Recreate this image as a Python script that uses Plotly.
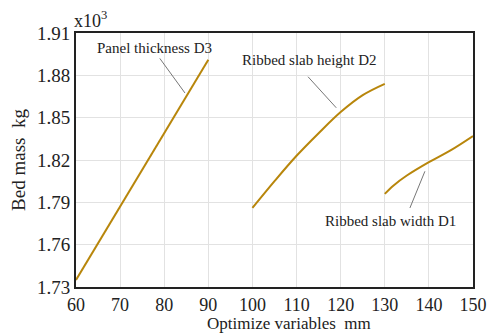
import plotly.graph_objects as go

# Data
d3_x = [60, 90]
d3_y = [1.735, 1.891]

d2_x = [100, 105, 110, 115, 120, 125, 130]
d2_y = [1.786, 1.805, 1.823, 1.839, 1.854, 1.866, 1.874]

d1_x = [130, 132, 135, 140, 145, 150]
d1_y = [1.796, 1.802, 1.809, 1.8185, 1.827, 1.837]

x_ticks = [60, 70, 80, 90, 100, 110, 120, 130, 140, 150]
y_ticks = [1.73, 1.76, 1.79, 1.82, 1.85, 1.88, 1.91]

labels = ["Panel thickness D3", "Ribbed slab height D2", "Ribbed slab width D1"]
x_title = "Optimize variables  mm"
y_title = "Bed mass  kg"

LINE_COLOR = "#B8860B"
FONT = "Liberation Serif"

fig = go.Figure()
for xs, ys in [(d3_x, d3_y), (d2_x, d2_y), (d1_x, d1_y)]:
    fig.add_trace(go.Scatter(x=xs, y=ys, mode="lines",
                             line=dict(color=LINE_COLOR, width=2, shape="spline"),
                             showlegend=False, hoverinfo="skip"))

# text labels
text_pos = [(77.9, 1.8997), (112.9, 1.891), (131.2, 1.777)]
for (tx, ty), t in zip(text_pos, labels):
    fig.add_annotation(x=tx, y=ty, text=t, showarrow=False,
                       font=dict(family=FONT, size=15, color="#222"),
                       xanchor="center", yanchor="middle")

# leader lines
leaders = [((79.0, 1.892), (84.7, 1.8675)),
           ((112.6, 1.879), (119.0, 1.857)),
           ((135.7, 1.786), (139.1, 1.812))]
for (x0, y0), (x1, y1) in leaders:
    fig.add_shape(type="line", x0=x0, y0=y0, x1=x1, y1=y1,
                  line=dict(color="#777", width=1))

fig.add_annotation(xref="paper", yref="paper", x=-0.01, y=1.0, yshift=0,
                   text="x10<sup>3</sup>", showarrow=False,
                   xanchor="left", yanchor="bottom",
                   font=dict(family=FONT, size=18, color="#222"))

# x axis title
fig.add_annotation(xref="paper", yref="paper", x=0.537, y=0, yshift=-48,
                   text=x_title, showarrow=False,
                   xanchor="center", yanchor="bottom",
                   font=dict(family=FONT, size=17, color="#222"))

fig.update_layout(
    width=488, height=335,
    margin=dict(l=76, r=15, t=33, b=48),
    paper_bgcolor="white", plot_bgcolor="white",
    font=dict(family=FONT, size=19, color="#222"),
    xaxis=dict(range=[60, 150], tickvals=x_ticks, showgrid=True,
               gridcolor="#e2e2e2", gridwidth=1, zeroline=False,
               showline=True, mirror=True, linecolor="#222", linewidth=2,
               ticks="", automargin=False, tickfont=dict(size=18)),
    yaxis=dict(range=[1.73, 1.91], tickvals=y_ticks,
               ticktext=[f"{v:.2f}" for v in y_ticks], showgrid=True,
               gridcolor="#e2e2e2", gridwidth=1, zeroline=False,
               showline=True, mirror=True, linecolor="#222", linewidth=2,
               ticks="", automargin=False,
               title=dict(text=y_title, standoff=6,
                          font=dict(size=19))),
)

fig.write_html("out.html", config={"displayModeBar": False},
               post_script="document.body.style.margin='0';document.body.style.overflow='hidden';")
